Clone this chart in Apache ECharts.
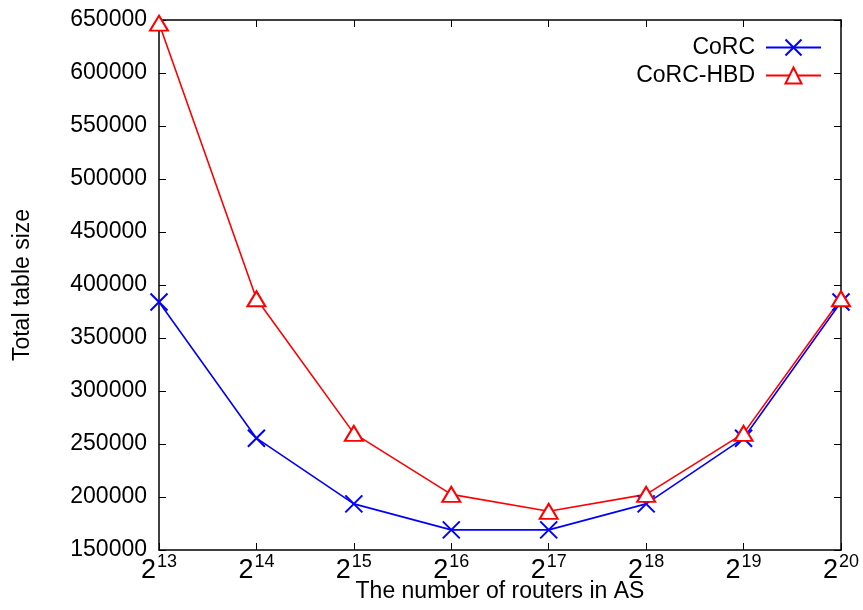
<!DOCTYPE html>
<html><head><meta charset="utf-8">
<script src="https://cdn.jsdelivr.net/npm/echarts@6/dist/echarts.min.js"></script>
<style>html,body{margin:0;padding:0;background:#fff}#c{width:863px;height:610px}</style>
</head><body><div id="c"></div>
<script>
const categories = ['13','14','15','16','17','18','19','20'];
const corc = [384000, 255500, 193500, 169000, 169000, 193500, 255500, 384000];
const corcHbd = [647000, 387000, 260000, 202500, 186500, 202500, 260000, 387000];
const yTicks = [150000, 650000, 50000]; // min, max, interval

const FONT = 'Liberation Sans';
const crossPath = 'path://M0,0L10,10M10,0L0,10';
const chart = echarts.init(document.getElementById('c'), null, {renderer: 'canvas'});
const legendCommon = {
  orient: 'vertical', right: 36, align: 'right', itemWidth: 55, itemHeight: 20,
  textStyle: {fontFamily: FONT, fontSize: 23, color: '#000', padding: [0, 6, 0, 0]},
  itemGap: 10
};
chart.setOption({
  animation: false,
  grid: {left: 159, right: 22, top: 20, bottom: 60, containLabel: false, outerBoundsMode: 'none'},
  legend: [
    Object.assign({top: 31, data: ['CoRC']}, legendCommon),
    Object.assign({top: 59, data: ['CoRC-HBD']}, legendCommon)
  ],
  xAxis: [{
    type: 'category', data: categories, boundaryGap: false,
    name: 'The number of routers in AS', nameLocation: 'middle', nameGap: 30, nameMoveOverlap: false,
    nameTextStyle: {fontFamily: FONT, fontSize: 23, color: '#000'},
    axisLine: {lineStyle: {color: '#000', width: 1.5}},
    axisTick: {inside: true, length: 7, alignWithLabel: true, lineStyle: {color: '#000'}},
    axisLabel: {
      interval: 0, margin: 3, color: '#000',
      formatter: v => '{b|2}{s|' + v + '}',
      rich: {
        b: {fontFamily: FONT, fontSize: 27, color: '#000', verticalAlign: 'bottom'},
        s: {fontFamily: FONT, fontSize: 18, color: '#000', verticalAlign: 'bottom', padding: [0, 0, 13, 1]}
      }
    },
    splitLine: {show: false}
  }, {
    type: 'category', data: categories, boundaryGap: false, position: 'top',
    axisLine: {lineStyle: {color: '#000', width: 1.5}},
    axisTick: {inside: true, length: 7, lineStyle: {color: '#000'}},
    axisLabel: {show: false}, splitLine: {show: false}
  }],
  yAxis: [{
    type: 'value', min: yTicks[0], max: yTicks[1], interval: yTicks[2],
    name: 'Total table size', nameLocation: 'middle', nameGap: 125, nameRotate: 90, nameMoveOverlap: false,
    nameTextStyle: {fontFamily: FONT, fontSize: 23, color: '#000'},
    axisLine: {show: true, lineStyle: {color: '#000', width: 1.5}},
    axisTick: {show: true, inside: true, length: 7, lineStyle: {color: '#000'}},
    axisLabel: {margin: 12, fontFamily: FONT, fontSize: 23, color: '#000', formatter: v => String(v)},
    splitLine: {show: false}
  }, {
    type: 'value', min: yTicks[0], max: yTicks[1], interval: yTicks[2], position: 'right',
    axisLine: {show: true, lineStyle: {color: '#000', width: 1.5}},
    axisTick: {show: true, inside: true, length: 7, lineStyle: {color: '#000'}},
    axisLabel: {show: false}, splitLine: {show: false}
  }],
  series: [{
    name: 'CoRC', type: 'line', data: corc, symbol: crossPath, symbolSize: 17,
    lineStyle: {color: '#0000ff', width: 1.6},
    itemStyle: {color: '#0000ff', borderColor: '#0000ff', borderWidth: 2}
  }, {
    name: 'CoRC-HBD', type: 'line', data: corcHbd, symbol: 'emptyTriangle', symbolSize: [18, 15],
    lineStyle: {color: '#ff0000', width: 1.6},
    itemStyle: {color: '#ff0000', borderColor: '#ff0000', borderWidth: 2}
  }]
});
</script></body></html>
